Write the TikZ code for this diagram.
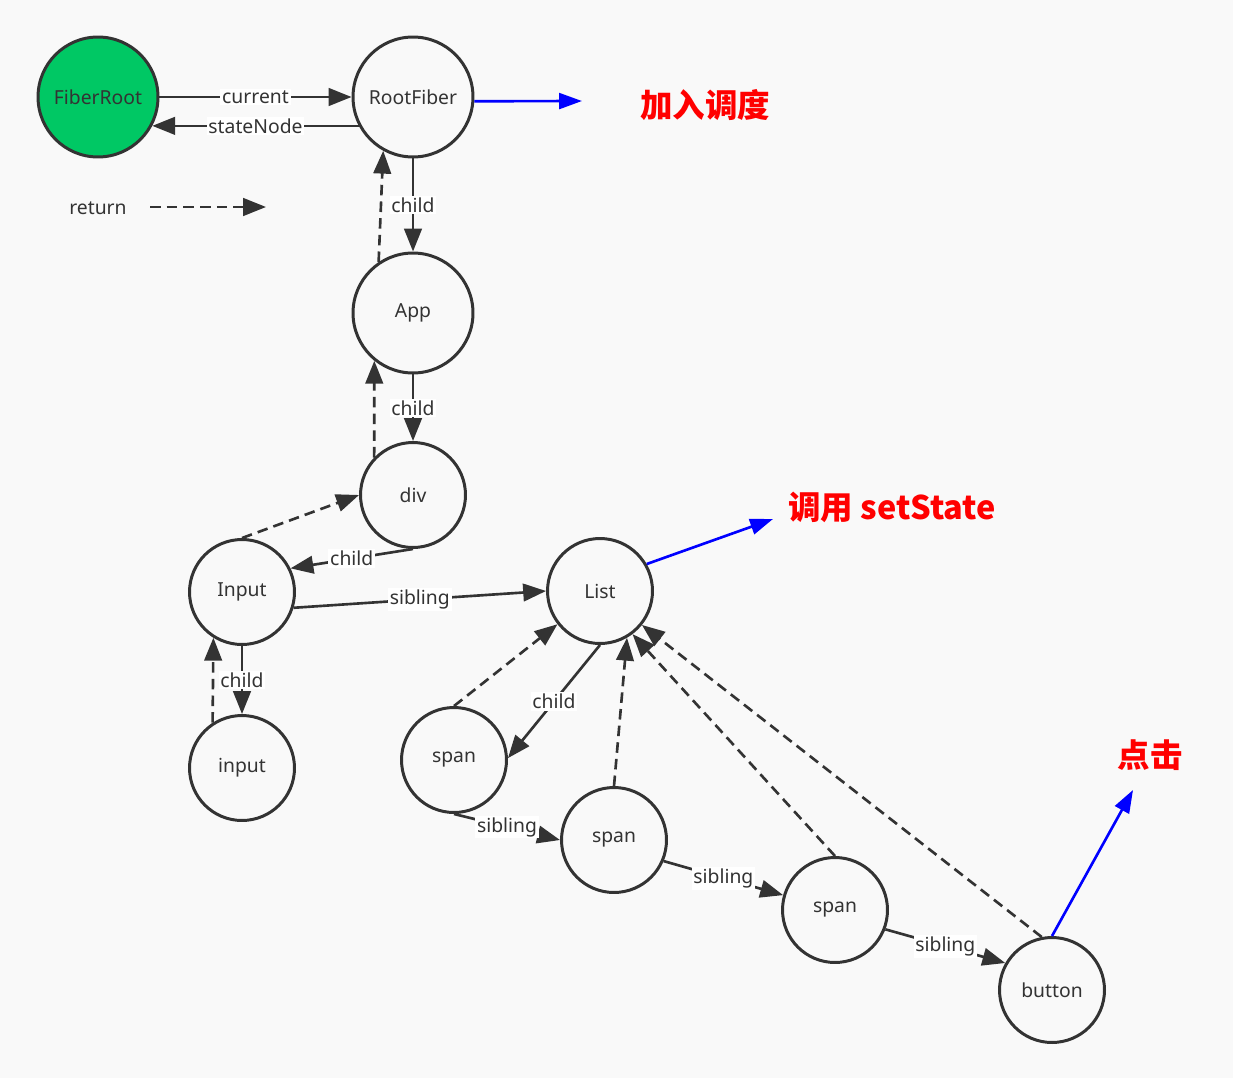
\documentclass[tikz,border=0pt]{standalone}
\usepackage{fontspec}
\setmainfont{Noto Sans}
\newfontfamily\cjk{Noto Sans CJK SC}
\usetikzlibrary{arrows.meta}
\definecolor{bgcol}{HTML}{F9F9F9}
\definecolor{ink}{HTML}{333333}
\definecolor{rootgreen}{HTML}{00C864}

\tikzset{
  fiber/.style={circle, draw=ink, line width=1.7pt, minimum size=2.1cm, inner sep=0pt, text=ink, font=\fontsize{11}{13}\selectfont},
  bigfiber/.style={fiber, minimum size=2.4cm},
  link/.style={draw=ink, line width=1.5pt, -{Triangle[length=13pt,width=10pt]}},
  ret/.style={link, dash pattern=on 6pt off 3.5pt},
  call/.style={draw=blue, line width=1.5pt, -{Triangle[length=13pt,width=9pt]}},
  lbl/.style={fill=white, inner sep=1pt, text=ink, font=\fontsize{11}{13}\selectfont},
  hint/.style={text=red, font=\cjk\bfseries\fontsize{18.5}{22}\selectfont}
}

\begin{document}
\begin{tikzpicture}[x=0.02cm, y=-0.02cm]
    \fill[bgcol] (0,0) rectangle (1233,1078);
    \useasboundingbox (0,0) rectangle (1233,1078);

    % fibers
    \node[bigfiber, fill=rootgreen] (FiberRoot) at (98,97) {FiberRoot};
    \node[bigfiber] (RootFiber) at (413,97) {RootFiber};
    \node[bigfiber] (App) at (413,313) {App};
    \node[fiber] (Div) at (413,495) {div};
    \node[fiber] (InputC) at (242,592) {Input};
    \node[fiber] (InputH) at (242,768) {input};
    \node[fiber] (List) at (600,591) {List};
    \node[fiber] (SpanA) at (454,760) {span};
    \node[fiber] (SpanB) at (614,840) {span};
    \node[fiber] (SpanC) at (835,910) {span};
    \node[fiber] (Button) at (1052,990) {button};

    % legend
    \node[text=ink, font=\fontsize{11}{13}\selectfont] (RetText) at (98,208) {return};
    \coordinate (RetA) at (150,207);
    \coordinate (RetB) at (266,207);
    \draw[ret] (RetA) -- (RetB);

    % root links
    \draw[link] (FiberRoot.east) -- node[lbl] {current} (RootFiber.west);
    \draw[link] (RootFiber.208) -- node[lbl] {stateNode} (FiberRoot.332);

    % child links
    \draw[link] (RootFiber.south) -- node[lbl] {child} (App.north);
    \draw[link] (App.south) -- node[lbl] {child} (Div.north);
    \draw[link] (Div.south) -- node[lbl] {child} (InputC.26);
    \draw[link] (InputC.south) -- node[lbl] {child} (InputH.north);
    \draw[link] (List.south) -- node[lbl] {child} (SpanA.2);

    % sibling links
    \draw[link] (InputC.343) -- node[lbl] {sibling} (List.west);
    \draw[link] (SpanA.south) -- node[lbl] {sibling} (SpanB.180);
    \draw[link] (SpanB.337) -- node[lbl] {sibling} (SpanC.164);
    \draw[link] (SpanC.339) -- node[lbl] {sibling} (Button.150);

    % return links
    \draw[ret] (App.124) -- (RootFiber.241);
    \draw[ret] (Div.136) -- (App.231);
    \draw[ret] (InputC.north) -- (Div.180);
    \draw[ret] (InputH.123) -- (InputC.238);
    \draw[ret] (SpanA.north) -- (List.218);
    \draw[ret] (SpanB.north) -- (List.300);
    \draw[ret] (SpanC.north) -- (List.307);
    \draw[ret] (Button.101) -- (List.321);

    % updates
    \coordinate (SchedEnd) at (582,101);
    \coordinate (SetEnd) at (773,519);
    \coordinate (ClickEnd) at (1133,790);
    \draw[call] (RootFiber.-4) -- (SchedEnd);
    \draw[call] (List.30) -- (SetEnd);
    \draw[call] (Button.north) -- (ClickEnd);
    \node[hint] (Sched) at (705,105) {加入调度};
    \node[hint] (SetState) at (892,507) {调用 setState};
    \node[hint] (Click) at (1150,755) {点击};
\end{tikzpicture}
\end{document}
